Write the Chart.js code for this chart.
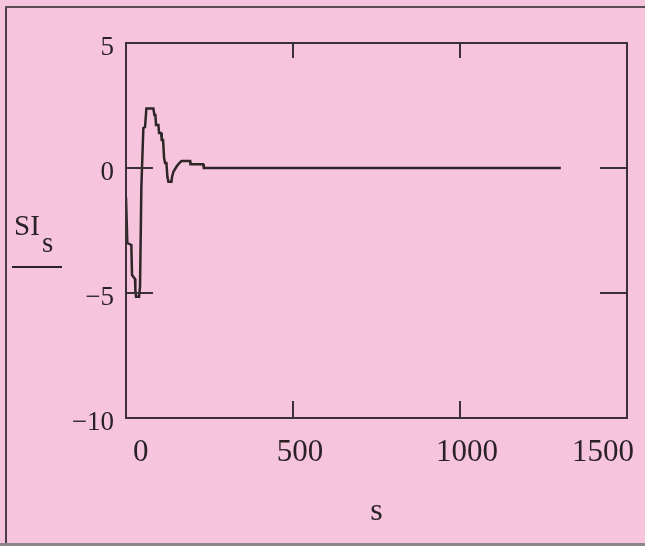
<!DOCTYPE html>
<html>
<head>
<meta charset="utf-8">
<script src="https://cdn.jsdelivr.net/npm/chart.js@4.4.1/dist/chart.umd.min.js"></script>
<style>
  html, body { margin: 0; padding: 0; background: #f6c5dd; }
  #wrap { position: relative; width: 645px; height: 546px; background: #f6c5dd; overflow: hidden; }
  #c { position: absolute; left: 0; top: 0; }
  .frameL { position: absolute; left: 5px; top: 6px; width: 2px; height: 540px; background: #4a3f44; }
  .frameT { position: absolute; left: 5px; top: 6px; width: 640px; height: 2px; background: #5a4d53; }
  .frameB { position: absolute; left: 0; top: 543px; width: 645px; height: 3px; background: #8c8589; }
  .ylab { position: absolute; font-family: "Liberation Serif", "Times New Roman", serif; color: #2a2226; font-size: 29px; line-height: 30px; white-space: nowrap; }
  .ybar { position: absolute; left: 12px; top: 266px; width: 50px; height: 2px; background: #2a2226; }
</style>
</head>
<body>
<div id="wrap">
  <canvas id="c" width="645" height="546"></canvas>
  <div class="frameL"></div>
  <div class="frameT"></div>
  <div class="frameB"></div>
  <div class="ylab" style="left:14px; top:210px;">SI</div>
  <div class="ylab" style="left:42px; top:227px;">s</div>
  <div class="ybar"></div>
</div>
<script>
// ---- data ----
const S_VALUES  = [0, 4, 16, 18, 27, 28, 30, 39, 42, 46, 52, 57, 61, 82, 85, 88, 90, 97, 99, 105, 107, 111, 114, 117, 121, 124, 127, 136, 138, 142, 151, 159, 166, 192, 193, 231, 233, 1302];
const SI_VALUES = [-1.16, -3.0, -3.08, -4.28, -4.44, -4.9, -5.15, -5.15, -4.75, -0.75, 1.6, 1.64, 2.38, 2.38, 2.12, 2.12, 1.72, 1.72, 1.4, 1.4, 1.12, 1.12, 0.4, 0.2, 0.2, -0.36, -0.55, -0.55, -0.35, -0.15, 0.05, 0.19, 0.28, 0.28, 0.15, 0.15, 0.0, 0.0];
const X_TICKS = [0, 500, 1000, 1500];
const Y_TICKS = [-10, -5, 0, 5];
const X_INNER_MARKS = [500, 1000];
const Y_INNER_MARKS = [0, -5];
const X_TITLE = 's';

const INK = '#2e2529';
const AXIS = '#3a3136';
const FONT = '"Liberation Serif", "Times New Roman", serif';

const points = S_VALUES.map((s, i) => ({ x: s, y: SI_VALUES[i] }));

const framePlugin = {
  id: 'framePlugin',
  afterDatasetsDraw(chart) {
    const { ctx, chartArea: a, scales: { x, y } } = chart;
    ctx.save();
    ctx.strokeStyle = AXIS;
    ctx.lineWidth = 2;
    ctx.strokeRect(a.left, a.top, a.right - a.left, a.bottom - a.top);
    ctx.beginPath();
    X_INNER_MARKS.forEach(v => {
      const px = x.getPixelForValue(v);
      ctx.moveTo(px, a.bottom); ctx.lineTo(px, a.bottom - 17);
      ctx.moveTo(px, a.top); ctx.lineTo(px, a.top + 15);
    });
    Y_INNER_MARKS.forEach(v => {
      const py = y.getPixelForValue(v);
      ctx.moveTo(a.left, py); ctx.lineTo(a.left + 27, py);
      ctx.moveTo(a.right, py); ctx.lineTo(a.right - 27, py);
    });
    ctx.stroke();
    ctx.restore();
  }
};

new Chart(document.getElementById('c'), {
  type: 'line',
  data: {
    datasets: [{
      data: points,
      borderColor: INK,
      borderWidth: 2.5,
      pointRadius: 0,
      tension: 0,
      fill: false
    }]
  },
  options: {
    responsive: false,
    animation: false,
    layout: { padding: { left: 0, top: 43, right: 18, bottom: 0 } },
    plugins: { legend: { display: false }, tooltip: { enabled: false } },
    scales: {
      x: {
        type: 'linear',
        min: 0, max: 1500,
        afterBuildTicks: s => { s.ticks = X_TICKS.map(v => ({ value: v })); },
        afterFit: s => { s.height = 128; },
        grid: { display: false, drawTicks: false },
        border: { display: false },
        ticks: {
          align: 'inner',
          labelOffset: 7,
          padding: 16,
          color: '#2a2226',
          font: { family: FONT, size: 31 },
          maxRotation: 0,
          callback: v => String(v)
        },
        title: {
          display: true,
          text: X_TITLE,
          color: '#2a2226',
          font: { family: FONT, size: 32 },
          padding: { top: 0, bottom: 15 }
        }
      },
      y: {
        type: 'linear',
        min: -10, max: 5,
        afterBuildTicks: s => { s.ticks = Y_TICKS.map(v => ({ value: v })); },
        afterFit: s => { s.width = 126; },
        grid: { display: false, drawTicks: false },
        border: { display: false },
        ticks: {
          padding: 12,
          labelOffset: 5,
          color: '#2a2226',
          font: { family: FONT, size: 27 },
          callback: v => (v < 0 ? '\u2212' + Math.abs(v) : String(v))
        }
      }
    }
  },
  plugins: [framePlugin]
});
</script>
</body>
</html>
